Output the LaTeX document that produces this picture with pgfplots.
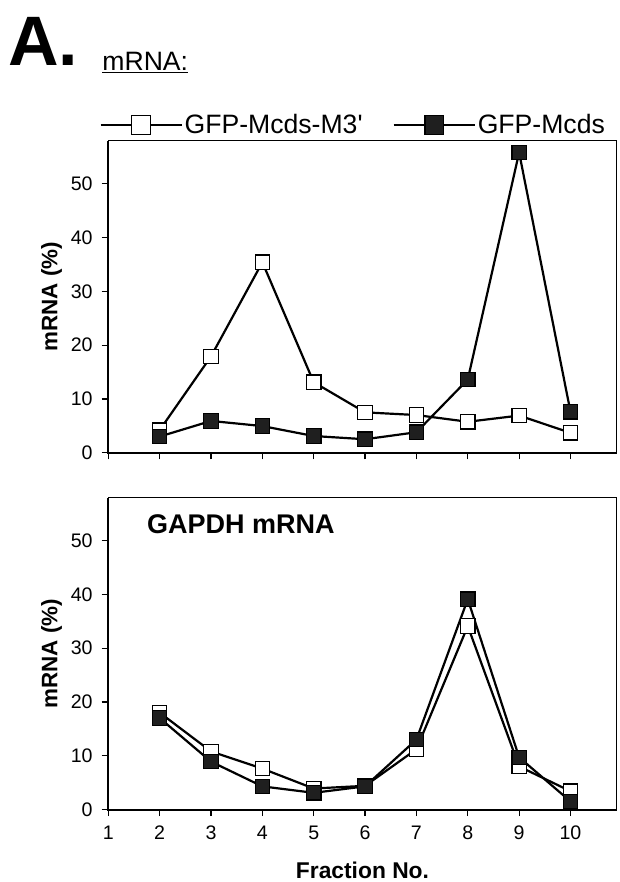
\documentclass[border=0pt]{standalone}
\usepackage{fontspec}
\setmainfont{Liberation Sans}
\usepackage{pgfplots}
\pgfplotsset{compat=1.18}

\pgfplotsset{
  fracaxis/.style={
    scale only axis, width=254.2pt, height=156pt,
    xmin=1, xmax=10.9, ymin=0, ymax=58,
    xtick={1,...,10}, ytick={0,10,...,50},
    tick align=outside, tick pos=left, major tick length=3.3pt,
    axis line style={line width=0.5pt},
    every tick/.style={black, line width=0.6pt},
    tick label style={font=\fontsize{9.8}{11}\selectfont},
    y tick label style={xshift=-1pt},
    x tick label style={yshift=-1.5pt},
    /pgf/number format/assume math mode=true,
    ylabel={mRNA (\%)},
    every axis y label/.style={at={(axis description cs:0,0.5)}, xshift=-28.4pt,
      rotate=90, anchor=center, font=\fontsize{11.2}{13}\selectfont\bfseries},
    every axis plot/.append style={line width=1.1pt, black, mark=square*, mark size=3.6pt},
    after end axis/.code={
      \draw[line width=1pt] (rel axis cs:0,1) -- (rel axis cs:0,0) -- (rel axis cs:1,0);
    },
  },
  openm/.style={mark options={fill=white, draw=black, line width=0.6pt}},
  fillm/.style={mark options={fill=black!88, draw=black, line width=0.6pt}},
}

\begin{document}
\begin{tikzpicture}
\path[use as bounding box] (-54.15pt,-36.25pt) rectangle (255.85pt,404.75pt);

% top panel
\begin{axis}[fracaxis, name=top, at={(0pt,178.4pt)}, xticklabels={},
  legend columns=2,
  legend style={draw=none, fill=none, at={(axis description cs:0,1)}, anchor=west,
    xshift=-4.65pt, yshift=7.85pt, inner sep=0pt,
    font=\fontsize{13.3}{15}\selectfont, nodes={inner sep=1pt},
    /tikz/every even column/.append style={column sep=14pt}},
  legend image code/.code={\draw[mark repeat=2, mark phase=2, mark size=4.6pt, #1]
    plot coordinates {(0pt,0pt) (20.25pt,0pt) (40.5pt,0pt)};},
]
\addplot[openm] coordinates {
  (2,4.2) (3,17.9) (4,35.4) (5,13.1) (6,7.5) (7,7.0) (8,5.75) (9,6.9) (10,3.7)
};
\addlegendentry{GFP-Mcds-M3\textquotesingle}
\addplot[fillm] coordinates {
  (2,3.0) (3,5.9) (4,4.95) (5,3.1) (6,2.5) (7,3.8) (8,13.6) (9,55.8) (10,7.6)
};
\addlegendentry{GFP-Mcds}
\end{axis}
\node[anchor=base west, inner sep=0pt, font=\fontsize{35}{40}\selectfont\bfseries]
  at ([xshift=-50.15pt, yshift=37.85pt]top.north west) {A.};
\node[anchor=base west, inner sep=0pt, font=\fontsize{13.3}{16}\selectfont]
  at ([xshift=-3.15pt, yshift=35.35pt]top.north west) {\underline{mRNA:}};

% bottom panel
\begin{axis}[fracaxis, at={(0pt,0pt)},
  xlabel={Fraction No.},
  every axis x label/.style={at={(axis description cs:0.5,0)}, yshift=-30.5pt,
    anchor=center, font=\fontsize{11.4}{13}\selectfont\bfseries},
]
\addplot[openm] coordinates {
  (2,18.0) (3,10.8) (4,7.6) (5,3.9) (6,4.4) (7,11.2) (8,34.1) (9,8.0) (10,3.4)
};
\addplot[fillm] coordinates {
  (2,17.0) (3,8.9) (4,4.3) (5,3.1) (6,4.3) (7,13.0) (8,39.1) (9,9.7) (10,1.5)
};
\node[anchor=base west, inner sep=0pt, font=\fontsize{13.5}{15}\selectfont\bfseries]
  at (axis description cs:0,1) [xshift=19.2pt, yshift=-17.8pt] {GAPDH mRNA};
\end{axis}
\end{tikzpicture}
\end{document}
